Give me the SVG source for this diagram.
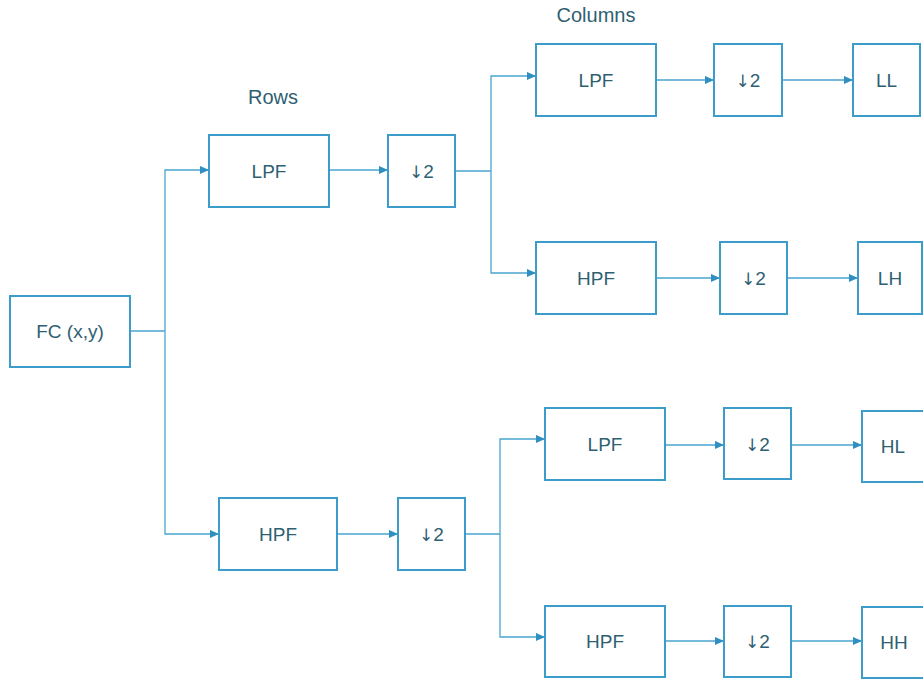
<svg xmlns="http://www.w3.org/2000/svg" width="923" height="680" viewBox="0 0 923 680">
  <style>
    .box { fill: #ffffff; stroke: #3d9dca; stroke-width: 2; }
    .lbl { font-family: "Liberation Sans", Arial, sans-serif; font-size: 19px; fill: #2f5f72; text-anchor: middle; }
    .hdr { font-family: "Liberation Sans", Arial, sans-serif; font-size: 20px; fill: #2f5f72; text-anchor: middle; }
    .dn { font-family: "DejaVu Sans", sans-serif; font-size: 17px; }
    .wire { fill: none; stroke: #4aa5d0; stroke-width: 1.3; }
    .wire-arrow { fill: none; stroke: #4aa5d0; stroke-width: 1.3; marker-end: url(#tip); }
  </style>
  <defs>
    <marker id="tip" viewBox="0 0 10 10" refX="10" refY="5" markerWidth="9" markerHeight="9" markerUnits="userSpaceOnUse" orient="auto">
      <path d="M0,0.5 L10,5 L0,9.5 z" fill="#2f8fc0"/>
    </marker>
  </defs>
  <rect width="923" height="680" fill="#ffffff"/>

  <!-- section headers -->
  <text class="hdr" x="273" y="104">Rows</text>
  <text class="hdr" x="596" y="22">Columns</text>

  <!-- connectors -->
  <g id="connectors">
    <path class="wire" d="M130,331 H165"/>
    <path class="wire-arrow" d="M165,331 V170 H209"/>
    <path class="wire-arrow" d="M165,331 V534 H219"/>

    <path class="wire-arrow" d="M329,170 H388"/>
    <path class="wire" d="M455,171 H491"/>
    <path class="wire-arrow" d="M491,171 V76 H536"/>
    <path class="wire-arrow" d="M491,171 V273 H536"/>

    <path class="wire-arrow" d="M337,534 H398"/>
    <path class="wire" d="M465,534 H500"/>
    <path class="wire-arrow" d="M500,534 V439 H545"/>
    <path class="wire-arrow" d="M500,534 V637 H545"/>

    <path class="wire-arrow" d="M656,80 H714"/>
    <path class="wire-arrow" d="M782,80 H853"/>
    <path class="wire-arrow" d="M656,278 H720"/>
    <path class="wire-arrow" d="M787,278 H858"/>
    <path class="wire-arrow" d="M665,445 H724"/>
    <path class="wire-arrow" d="M791,445 H862"/>
    <path class="wire-arrow" d="M665,641 H724"/>
    <path class="wire-arrow" d="M791,641 H862"/>
  </g>

  <!-- input -->
  <g id="fc">
    <rect class="box" x="10" y="296" width="120" height="71"/>
    <text class="lbl" x="70" y="338">FC (x,y)</text>
  </g>

  <!-- row stage -->
  <g id="row-lpf">
    <rect class="box" x="209" y="135" width="120" height="72"/>
    <text class="lbl" x="269" y="178">LPF</text>
  </g>
  <g id="row-lpf-down">
    <rect class="box" x="388" y="135" width="67" height="72"/>
    <text class="lbl" x="421.5" y="178"><tspan class="dn">↓</tspan>2</text>
  </g>
  <g id="row-hpf">
    <rect class="box" x="219" y="498" width="118" height="72"/>
    <text class="lbl" x="278" y="541">HPF</text>
  </g>
  <g id="row-hpf-down">
    <rect class="box" x="398" y="498" width="67" height="72"/>
    <text class="lbl" x="431.5" y="541"><tspan class="dn">↓</tspan>2</text>
  </g>

  <!-- column stage, low branch -->
  <g id="col-l-lpf">
    <rect class="box" x="536" y="44" width="120" height="72"/>
    <text class="lbl" x="596" y="87">LPF</text>
  </g>
  <g id="col-l-lpf-down">
    <rect class="box" x="714" y="44" width="68" height="72"/>
    <text class="lbl" x="748" y="87"><tspan class="dn">↓</tspan>2</text>
  </g>
  <g id="out-ll">
    <rect class="box" x="853" y="44" width="67" height="72"/>
    <text class="lbl" x="886.5" y="87">LL</text>
  </g>
  <g id="col-l-hpf">
    <rect class="box" x="536" y="242" width="120" height="72"/>
    <text class="lbl" x="596" y="285">HPF</text>
  </g>
  <g id="col-l-hpf-down">
    <rect class="box" x="720" y="242" width="67" height="72"/>
    <text class="lbl" x="753.5" y="285"><tspan class="dn">↓</tspan>2</text>
  </g>
  <g id="out-lh">
    <rect class="box" x="858" y="242" width="64" height="72"/>
    <text class="lbl" x="890" y="285">LH</text>
  </g>

  <!-- column stage, high branch -->
  <g id="col-h-lpf">
    <rect class="box" x="545" y="408" width="120" height="72"/>
    <text class="lbl" x="605" y="451">LPF</text>
  </g>
  <g id="col-h-lpf-down">
    <rect class="box" x="724" y="408" width="67" height="71"/>
    <text class="lbl" x="757.5" y="451"><tspan class="dn">↓</tspan>2</text>
  </g>
  <g id="out-hl">
    <rect class="box" x="862" y="411" width="62" height="71"/>
    <text class="lbl" x="893" y="453">HL</text>
  </g>
  <g id="col-h-hpf">
    <rect class="box" x="545" y="606" width="120" height="71"/>
    <text class="lbl" x="605" y="648">HPF</text>
  </g>
  <g id="col-h-hpf-down">
    <rect class="box" x="724" y="606" width="67" height="71"/>
    <text class="lbl" x="757.5" y="648"><tspan class="dn">↓</tspan>2</text>
  </g>
  <g id="out-hh">
    <rect class="box" x="862" y="607" width="64" height="71"/>
    <text class="lbl" x="894" y="649">HH</text>
  </g>
</svg>
